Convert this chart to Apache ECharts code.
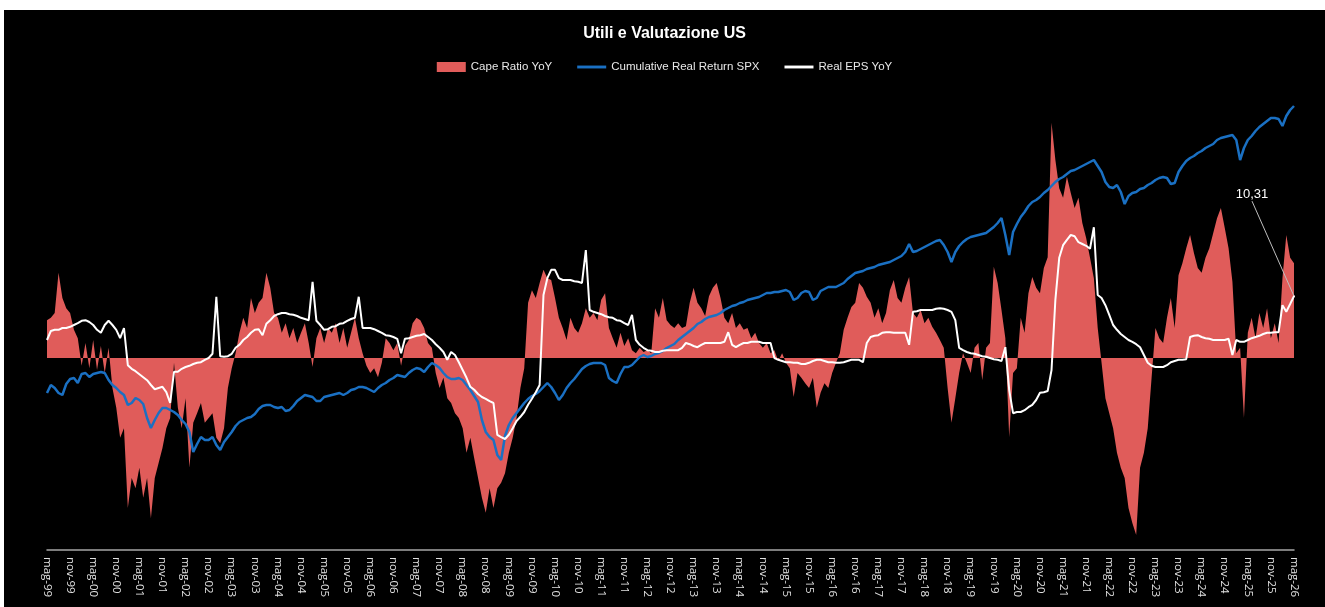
<!DOCTYPE html>
<html><head><meta charset="utf-8">
<script src="https://cdn.jsdelivr.net/npm/echarts@6/dist/echarts.min.js"></script>
<style>html,body{margin:0;padding:0;background:#fff;width:1325px;height:607px;overflow:hidden}
#c{position:absolute;left:4px;top:10px;width:1321px;height:597px;background:#000}</style>
</head><body><div id="c"></div>
<script>
// Month labels (Italian), May 1999 .. May 2026
const monthNames = ['gen','feb','mar','apr','mag','giu','lug','ago','set','ott','nov','dic'];
const startYear = 1999, startMonth = 4, monthCount = 325;
const categories = [];
for (let k = 0; k < monthCount; k++) {
  const m = (startMonth + k) % 12;
  const y = startYear + Math.floor((startMonth + k) / 12);
  categories.push(monthNames[m] + '-' + String(y).slice(2));
}

const capeRatioYoY = [
  6.3, 6.7, 7.5, 14.2, 10.0, 8.3, 7.5, 4.7, 3.3, -1.3, 2.5, -1.7,
  3.0, -2.0, 2.0, -2.5, 1.7, -5.0, -8.3, -13.3, -11.7, -25.0, -20.0, -21.7,
  -18.3, -23.3, -20.0, -26.7, -20.0, -17.5, -15.0, -11.7, -10.0, -0.8, -8.3, -11.7,
  -6.7, -18.3, -10.8, -9.2, -7.5, -10.8, -10.0, -9.2, -13.3, -14.2, -11.7, -5.0,
  -1.7, 0.8, 4.2, 6.7, 5.0, 10.0, 7.5, 9.2, 10.0, 14.2, 11.7, 7.5,
  6.7, 4.2, 5.8, 3.3, 5.0, 2.5, 4.2, 5.8, 2.5, -1.5, 3.3, 5.0,
  2.5, 5.0, 4.2, 5.8, 2.5, 5.0, 1.7, 4.2, 6.7, 3.3, 0.8, -1.3,
  -2.5, -1.7, -3.2, -0.8, 3.3, 2.5, 1.3, 2.5, -1.3, 2.0, 3.0, 5.8,
  6.7, 6.3, 5.0, 2.5, 1.7, -2.5, -5.0, -3.3, -6.7, -7.5, -9.2, -10.0,
  -11.7, -15.8, -13.3, -16.7, -20.0, -23.3, -25.8, -21.7, -25.0, -21.7, -20.8, -19.2,
  -15.8, -13.3, -10.0, -5.0, -1.7, 9.2, 11.3, 10.0, 12.5, 14.7, 13.3, 13.0,
  10.0, 6.7, 5.0, 3.0, 6.7, 5.0, 4.2, 5.8, 8.3, 6.7, 7.5, 6.3,
  9.7, 10.8, 5.0, 3.3, 1.7, 4.2, 2.0, 3.3, 1.3, 0.8, 1.7, 1.0,
  1.3, 0.8, 8.3, 6.7, 10.0, 6.3, 5.5, 5.0, 5.8, 5.0, 5.3, 9.2,
  11.7, 9.2, 8.3, 7.0, 10.3, 11.7, 12.5, 10.0, 6.7, 5.8, 7.5, 5.0,
  5.8, 4.7, 5.0, 3.3, 4.2, 2.5, 1.7, 2.5, 0.8, 1.3, -0.5, 0.8,
  -0.8, -1.7, -6.5, -2.5, -3.3, -4.2, -5.0, -3.3, -8.3, -5.8, -4.2, -5.0,
  -2.5, -0.8, 0.8, 4.7, 6.7, 8.5, 9.2, 12.5, 11.7, 10.2, 9.2, 6.7,
  8.3, 5.8, 7.5, 11.3, 13.0, 10.0, 9.2, 11.7, 13.5, 7.5, 6.7, 8.0,
  5.8, 6.7, 5.2, 4.2, 3.0, 1.7, -5.0, -10.8, -6.7, -2.5, 0.8, -0.8,
  -2.5, 1.7, 2.5, -3.7, 1.7, 2.5, 15.2, 12.5, 8.0, 3.3, -13.2, -2.5,
  -1.7, 6.7, 4.2, 10.8, 13.5, 11.7, 10.8, 15.0, 16.8, 39.2, 33.0, 28.3,
  26.7, 30.2, 27.5, 25.0, 26.7, 22.5, 20.0, 16.7, 13.3, 5.0, -0.8, -6.7,
  -9.2, -11.7, -15.8, -18.3, -20.0, -25.0, -27.5, -29.5, -18.3, -15.8, -11.7, -3.3,
  5.0, 3.3, 2.5, 6.7, 10.0, 5.0, 13.8, 15.8, 18.3, 20.5, 17.5, 15.0,
  14.2, 16.7, 18.3, 20.8, 23.3, 25.0, 21.7, 18.3, 12.7, 0.8, 1.7, -10.0,
  4.2, 6.7, 3.3, 7.5, 5.0, 8.3, 3.3, 5.8, 2.5, 13.3, 20.5, 16.7, 15.8
];

const cumulativeRealReturnSPX = [
  -5, 3, 0, -5, -7, 4, 9, 10, 5, 14, 15, 11,
  14, 15, 16, 15, 8, 3, 0, -4, -7, -17, -15, -10,
  -12, -16, -30, -40, -32, -25, -20, -20, -22, -24, -27, -32,
  -36, -44, -64, -56, -49, -52, -52, -49, -57, -62, -54, -49,
  -44, -38, -34, -32, -30, -29, -26, -21, -18, -17, -17, -19,
  -20, -19, -23, -22, -18, -13, -10, -7, -8, -9, -13, -13,
  -9, -8, -7, -6, -5, -7, -5, -2, -1, 1, 1, 0,
  -2, -4, 0, 3, 5, 8, 10, 13, 12, 11, 15, 18,
  20, 19, 16, 21, 25, 23, 20, 15, 11, 9, 9, 10,
  8, 3, -2, -8, -14, -32, -44, -49, -52, -67, -72, -48,
  -37, -30, -25, -20, -15, -11, -8, -6, -3, 1, 5, 1,
  -5, -12, -7, 0, 5, 9, 14, 19, 22, 24, 25, 25,
  25, 23, 10, 7, 5, 14, 21, 21, 23, 27, 31, 33,
  31, 32, 34, 35, 37, 40, 42, 44, 48, 51, 54, 57,
  60, 64, 66, 69, 71, 72, 73, 75, 78, 80, 82, 83,
  85, 86, 88, 89, 90, 91, 93, 95, 95, 96, 96, 97,
  98, 96, 88, 90, 95, 97, 96, 88, 90, 97, 99, 101,
  101, 101, 103, 105, 109, 112, 115, 116, 117, 119, 120, 121,
  123, 124, 125, 126, 128, 130, 132, 136, 144, 136, 137, 139,
  141, 143, 145, 147, 148, 143, 136, 126, 136, 142, 146, 149,
  151, 152, 153, 154, 155, 158, 161, 165, 170, 153, 133, 156,
  164, 171, 176, 182, 186, 188, 191, 195, 198, 202, 206, 209,
  211, 214, 217, 218, 220, 222, 224, 226, 228, 222, 216, 206,
  201, 200, 203, 196, 184, 192, 195, 196, 199, 200, 203, 205,
  208, 210, 211, 210, 204, 205, 216, 222, 227, 230, 232, 235,
  237, 240, 242, 244, 248, 250, 251, 252, 253, 248, 228, 240,
  248, 252, 257, 261, 264, 267, 270, 270, 269, 262, 272, 278, 282
];

const realEpsYoY = [
  3.0, 4.5, 4.7, 4.7, 5.0, 5.0, 5.2, 5.5, 5.8, 6.2, 6.3, 6.0,
  5.5, 4.7, 4.2, 5.5, 6.2, 5.5, 4.7, 3.3, 5.0, -1.2, -1.8, -2.2,
  -2.7, -3.2, -3.7, -4.5, -5.2, -5.0, -4.8, -5.7, -7.5, -2.3, -2.3, -1.8,
  -1.5, -1.3, -1.0, -0.8, -0.7, -0.3, 0.0, 0.7, 10.2, 0.3, 0.2, 0.3,
  0.7, 1.7, 2.2, 3.0, 3.5, 4.2, 4.7, 4.8, 3.8, 5.7, 6.3, 7.0,
  7.3, 7.5, 7.5, 7.3, 7.2, 7.0, 6.7, 6.5, 6.3, 12.7, 6.2, 5.5,
  4.7, 4.8, 5.2, 5.3, 5.7, 5.8, 6.2, 6.5, 6.7, 10.2, 5.0, 5.0,
  5.0, 4.8, 4.5, 4.2, 3.8, 3.7, 3.5, 3.2, 0.8, 3.2, 3.3, 3.5,
  3.7, 3.8, 4.0, 3.5, 3.0, 2.3, 1.7, 1.0, -0.3, 1.0, 0.5, -0.7,
  -2.0, -3.3, -4.8, -5.3, -6.0, -6.5, -6.8, -7.2, -7.5, -12.8, -13.2, -13.5,
  -12.8, -11.7, -10.5, -9.8, -9.0, -7.8, -6.8, -5.7, -4.5, 10.5, 13.3, 14.7,
  14.7, 13.3, 13.0, 13.0, 13.0, 12.8, 12.7, 12.5, 18.0, 8.0, 7.7, 7.5,
  7.3, 7.0, 6.8, 6.7, 6.3, 6.2, 5.8, 5.5, 7.2, 3.0, 2.2, 1.7,
  1.3, 1.2, 1.0, 1.0, 1.2, 1.3, 1.3, 1.3, 1.3, 1.7, 2.5, 2.3,
  2.0, 1.8, 2.2, 2.5, 2.5, 2.5, 2.5, 2.5, 2.7, 4.3, 2.2, 1.8,
  2.2, 2.5, 2.5, 2.7, 2.7, 2.7, 2.5, 2.5, 2.5, 0.0, -0.3, -0.5,
  -0.7, -0.7, -0.8, -0.8, -1.0, -1.0, -0.8, -0.5, -0.3, -0.3, -0.5, -0.7,
  -0.7, -0.8, -0.8, -0.7, -0.5, -0.3, -0.3, -0.3, -0.7, 2.5, 3.5, 3.7,
  3.8, 4.2, 4.3, 4.3, 4.2, 4.2, 4.2, 4.2, 2.2, 7.7, 7.8, 8.0,
  8.0, 8.0, 8.0, 8.2, 8.3, 8.2, 8.0, 7.7, 6.3, 1.7, 1.3, 1.0,
  0.8, 0.7, 0.5, 0.3, 0.2, 0.0, -0.2, -0.3, -0.5, 1.8, -5.3, -9.2,
  -9.0, -9.0, -8.7, -8.2, -7.8, -7.0, -5.8, -5.7, -5.5, -2.0, 9.7, 16.7,
  18.8, 19.7, 20.5, 20.3, 19.3, 19.0, 18.7, 18.2, 21.8, 10.5, 10.0, 8.8,
  7.2, 5.5, 4.7, 4.0, 3.5, 3.0, 2.7, 2.3, 1.8, 0.5, -0.8, -1.3,
  -1.5, -1.5, -1.5, -1.2, -0.7, -0.5, -0.3, -0.3, -0.2, 3.5, 3.7, 3.8,
  3.5, 3.3, 3.2, 3.0, 3.0, 3.0, 3.0, 3.2, 0.5, 3.0, 2.7, 2.7,
  3.0, 3.3, 3.5, 3.7, 4.0, 4.2, 4.2, 4.3, 4.3, 8.8, 7.7, 9.0, 10.31
];

const lastIdx = realEpsYoY.length - 1;
const epsSeriesData = realEpsYoY.map((v, i) => i === lastIdx
  ? { value: v, symbol: 'circle', symbolSize: 2, label: { show: true }, labelLine: { show: true } }
  : v);

const font = '"Liberation Sans", Arial, sans-serif';
const lineIcon = 'path://M0 0H30V3H0Z';
const chart = echarts.init(document.getElementById('c'), null, { renderer: 'canvas' });
chart.setOption({
  backgroundColor: '#000000',
  animation: false,
  title: {
    text: 'Utili e Valutazione US',
    left: 'center',
    top: 11,
    textStyle: { color: '#ffffff', fontFamily: font, fontWeight: 'bold', fontSize: 16 }
  },
  legend: {
    top: 46,
    left: 'center',
    itemWidth: 29,
    itemHeight: 10,
    itemGap: 25,
    textStyle: { color: '#e8e8e8', fontFamily: font, fontSize: 11.5 },
    data: [
      { name: 'Cape Ratio YoY', icon: 'rect' },
      { name: 'Cumulative Real Return SPX', icon: lineIcon },
      { name: 'Real EPS YoY', icon: lineIcon }
    ]
  },
  grid: { left: 43, right: 31, top: 78, bottom: 57, containLabel: false },
  xAxis: {
    type: 'category',
    data: categories,
    boundaryGap: false,
    axisLine: { show: true, onZero: false, lineStyle: { color: '#a6a6a6', width: 1.5 } },
    axisTick: { show: false },
    splitLine: { show: false },
    axisLabel: {
      interval: 5,
      rotate: -90,
      margin: 7,
      color: '#e0e0e0',
      fontSize: 11.5,
      fontFamily: '"Open Sans", sans-serif'
    }
  },
  yAxis: [
    { type: 'value', min: -32, max: 45, show: false, splitLine: { show: false } },
    { type: 'value', min: -162, max: 300, show: false, splitLine: { show: false } }
  ],
  series: [
    {
      name: 'Cape Ratio YoY',
      type: 'line',
      yAxisIndex: 0,
      data: capeRatioYoY,
      symbol: 'none',
      color: '#E05C5A',
      lineStyle: { width: 0 },
      areaStyle: { color: '#E05C5A', opacity: 1 },
      z: 1
    },
    {
      name: 'Cumulative Real Return SPX',
      type: 'line',
      yAxisIndex: 1,
      data: cumulativeRealReturnSPX,
      symbol: 'none',
      color: '#1A70C3',
      lineStyle: { width: 2.5, color: '#1A70C3' },
      z: 2
    },
    {
      name: 'Real EPS YoY',
      type: 'line',
      yAxisIndex: 0,
      data: epsSeriesData,
      symbol: 'none',
      color: '#ffffff',
      lineStyle: { width: 2, color: '#ffffff' },
      label: {
        show: false,
        position: 'top',
        color: '#ffffff',
        fontSize: 13,
        fontFamily: font,
        formatter: p => String(p.value).replace('.', ',')
      },
      labelLine: { show: false, lineStyle: { color: '#bfbfbf', width: 1 } },
      labelLayout: { dx: -42, dy: -89 },
      z: 3
    }
  ]
});
</script></body></html>
